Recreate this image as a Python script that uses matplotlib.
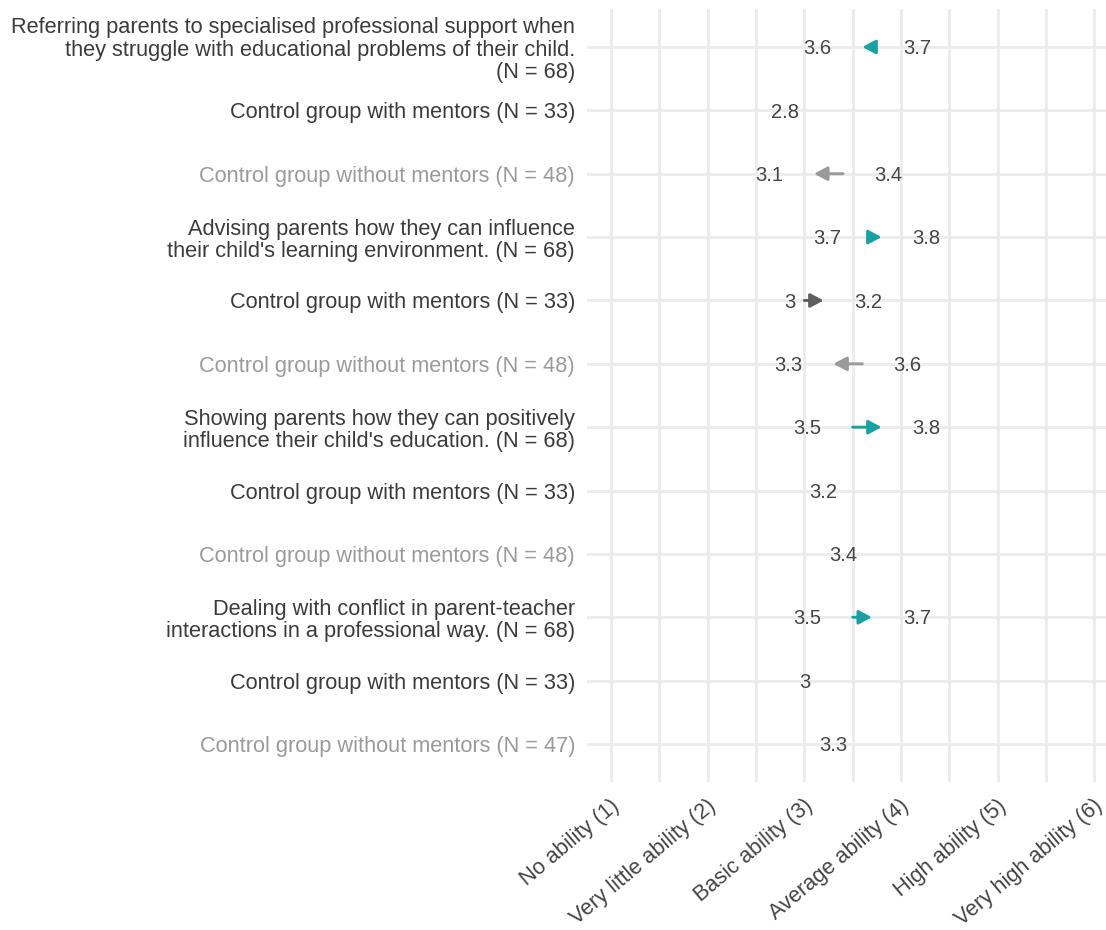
import numpy as np
import matplotlib
matplotlib.use("Agg")
import matplotlib.pyplot as plt
from matplotlib.patches import FancyArrowPatch
from matplotlib.transforms import ScaledTranslation

plt.rcParams['font.family'] = ['Liberation Sans', 'DejaVu Sans']

# Row labels, top to bottom
row_labels = [
    "Referring parents to specialised professional support when\nthey struggle with educational problems of their child.\n(N = 68)",
    "Control group with mentors (N = 33)",
    "Control group without mentors (N = 48)",
    "Advising parents how they can influence\ntheir child's learning environment. (N = 68)",
    "Control group with mentors (N = 33)",
    "Control group without mentors (N = 48)",
    "Showing parents how they can positively\ninfluence their child's education. (N = 68)",
    "Control group with mentors (N = 33)",
    "Control group without mentors (N = 48)",
    "Dealing with conflict in parent-teacher\ninteractions in a professional way. (N = 68)",
    "Control group with mentors (N = 33)",
    "Control group without mentors (N = 47)",
]
row_group = ["programme", "with", "without"] * 4

# Mean self-rated ability at first and second measurement (NaN = single measurement)
first_value = [3.7, np.nan, 3.4, 3.7, 3.0, 3.6, 3.5, np.nan, np.nan, 3.5, np.nan, np.nan]
second_value = [3.6, 2.8, 3.1, 3.8, 3.2, 3.3, 3.8, 3.2, 3.4, 3.7, 3.0, 3.3]

scale_values = [1, 2, 3, 4, 5, 6]
scale_labels = ["No ability (1)", "Very little ability (2)", "Basic ability (3)",
                "Average ability (4)", "High ability (5)", "Very high ability (6)"]

arrow_colors = {"programme": "#17a3a5", "with": "#5e5e5e", "without": "#9a9a9a"}
label_colors = {"programme": "#3b3b3b", "with": "#3b3b3b", "without": "#9a9a9a"}
value_color = "#444444"
grid_color = "#ebebeb"

W, H = 1106, 930
fig = plt.figure(figsize=(W / 100, H / 100), dpi=100)
px_per_unit = 96.6
ax_left, ax_right = 587, 587 + 5.5 * px_per_unit
ax_top, ax_bottom = 9, 782
ax = fig.add_axes([ax_left / W, 1 - ax_bottom / H,
                   (ax_right - ax_left) / W, (ax_bottom - ax_top) / H])

ax.set_xlim(0.75, 6.25)
n = len(row_labels)
ax.set_ylim(n - 1 + 0.6, -0.6)

# Grid
for x in np.arange(1, 6.01, 0.5):
    ax.axvline(x, color=grid_color, lw=2.0, zorder=0)
for y in range(n):
    ax.axhline(y, color=grid_color, lw=2.0, zorder=0)

for s in ax.spines.values():
    s.set_visible(False)

ax.set_yticks(range(n))
ax.set_yticklabels(row_labels, fontsize=15.7, linespacing=1.07)
for tl, g in zip(ax.get_yticklabels(), row_group):
    tl.set_color(label_colors[g])
ax.tick_params(axis='y', length=0, pad=8.6)

ax.set_xticks(scale_values)
ax.set_xticklabels(scale_labels, fontsize=15.7, rotation=40, ha='right', va='top',
                   rotation_mode='anchor', color="#444444")
ax.tick_params(axis='x', length=0, pad=9.5)
shift = ScaledTranslation(-1 / 100, 0, fig.dpi_scale_trans)
for tl in ax.get_xticklabels():
    tl.set_transform(tl.get_transform() + shift)

char_offset_pt = 10.8
for y, (a, b, g) in enumerate(zip(first_value, second_value, row_group)):
    if np.isnan(a):
        ax.annotate(f"{b:g}", xy=(b, y), xytext=(0, -1.2), textcoords='offset points',
                    ha='center', va='center', fontsize=14.5, color=value_color, zorder=3)
        continue
    arr = FancyArrowPatch((a, y), (b, y),
                          arrowstyle="-|>,head_length=0.79,head_width=0.42",
                          mutation_scale=10, lw=2.1, color=arrow_colors[g],
                          shrinkA=0, shrinkB=0, zorder=2)
    ax.add_patch(arr)
    lo, hi = min(a, b), max(a, b)
    for v, sign in ((lo, -1), (hi, 1)):
        txt = f"{v:g}"
        ax.annotate(txt, xy=(v, y), xytext=(sign * char_offset_pt * len(txt), -1.2),
                    textcoords='offset points', ha='center', va='center',
                    fontsize=14.5, color=value_color, zorder=3)

fig.savefig("out.png", dpi=100, facecolor="white")
